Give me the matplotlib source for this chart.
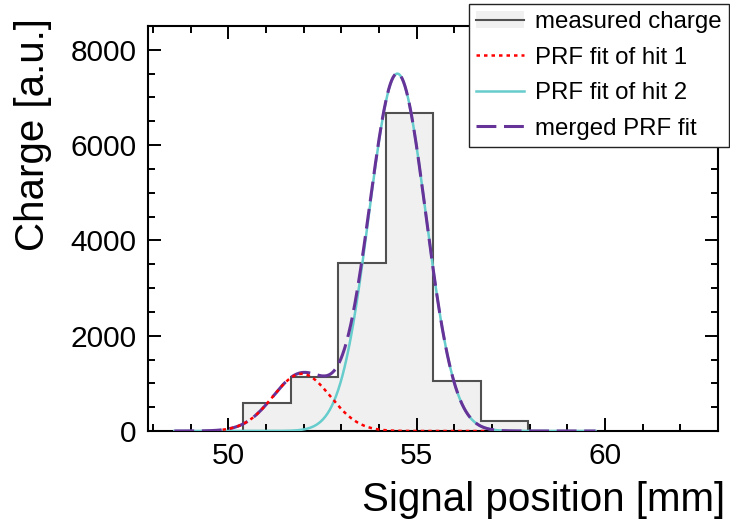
import numpy as np
import matplotlib
matplotlib.use("Agg")
import matplotlib.pyplot as plt
from matplotlib.ticker import MultipleLocator
from matplotlib.patches import Patch
from matplotlib.lines import Line2D

plt.rcParams['font.family'] = ['Liberation Sans', 'DejaVu Sans']

# measured charge per pad (bin edges in mm)
bin_edges = [50.40, 51.66, 52.92, 54.18, 55.44, 56.70, 57.96]
charge = [595, 1130, 3525, 6675, 1050, 210]

# PRF fit parameters: amplitude, centre, width
hit1_amp, hit1_mean, hit1_sigma = 1200, 51.95, 0.76
hit2_amp, hit2_mean, hit2_sigma = 7500, 54.49, 0.755
fit_range = (48.57, 59.75)
hit1_range = (49.85, 56.9)


def prf(x, amp, mean, sigma):
    return amp * np.exp(-0.5 * ((x - mean) / sigma) ** 2)


x = np.linspace(fit_range[0], fit_range[1], 600)
x1 = np.linspace(hit1_range[0], hit1_range[1], 400)
fit1 = prf(x1, hit1_amp, hit1_mean, hit1_sigma)
fit2 = prf(x, hit2_amp, hit2_mean, hit2_sigma)
merged = prf(x, hit1_amp, hit1_mean, hit1_sigma) + fit2

fig = plt.figure(figsize=(7.3, 5.23), dpi=100)
ax = fig.add_axes([0.2027, 0.1759, 0.7808, 0.7744])

hist_col = '#505050'
ax.stairs(charge, bin_edges, fill=True, color='#f0f0f0', zorder=1)
ax.stairs(charge, bin_edges, color=hist_col, lw=1.5, zorder=2)

ax.plot(x, fit2, color='#66cccc', lw=1.8, zorder=3)
ax.plot(x, merged, color='#663399', lw=2.2, dashes=(6.5, 2.5), zorder=4)
ax.plot(x1, fit1, color='red', lw=1.8, dashes=(1.4, 1.6), zorder=5)

ax.set_xlim(47.87, 63)
ax.set_ylim(0, 8500)
ax.xaxis.set_major_locator(MultipleLocator(5))
ax.xaxis.set_minor_locator(MultipleLocator(1))
ax.yaxis.set_major_locator(MultipleLocator(2000))
ax.yaxis.set_minor_locator(MultipleLocator(500))
ax.tick_params(which='both', direction='in', top=True, right=True, width=1.4)
ax.tick_params(which='major', length=9.5, labelsize=21.5, pad=8)
ax.tick_params(which='minor', length=5)
for s in ax.spines.values():
    s.set_linewidth(1.5)

ax.set_xlabel('Signal position [mm]', fontsize=29, loc='right')
ax.xaxis.set_label_coords(1.012, -0.123)
ax.set_ylabel('Charge [a.u.]', fontsize=29, loc='top')
ax.yaxis.set_label_coords(-0.168, 1.02)

handles = [
    (Patch(facecolor='#f0f0f0', edgecolor='none'), Line2D([], [], color=hist_col, lw=1.5)),
    Line2D([], [], color='red', lw=1.8, dashes=(1.4, 1.6)),
    Line2D([], [], color='#66cccc', lw=1.8),
    Line2D([], [], color='#663399', lw=2.2, dashes=(6.5, 2.5)),
]
labels = ['measured charge', 'PRF fit of hit 1', 'PRF fit of hit 2', 'merged PRF fit']
leg = fig.legend(handles, labels, loc='upper left', bbox_to_anchor=(0.6425, 0.9924),
                 fontsize=17.3, fancybox=False, framealpha=1, edgecolor='#222222',
                 handlelength=2.0, handletextpad=0.45, labelspacing=0.56,
                 borderpad=0.3, borderaxespad=0)
leg.get_frame().set_linewidth(1.0)

fig.savefig('out.png', dpi=100)
